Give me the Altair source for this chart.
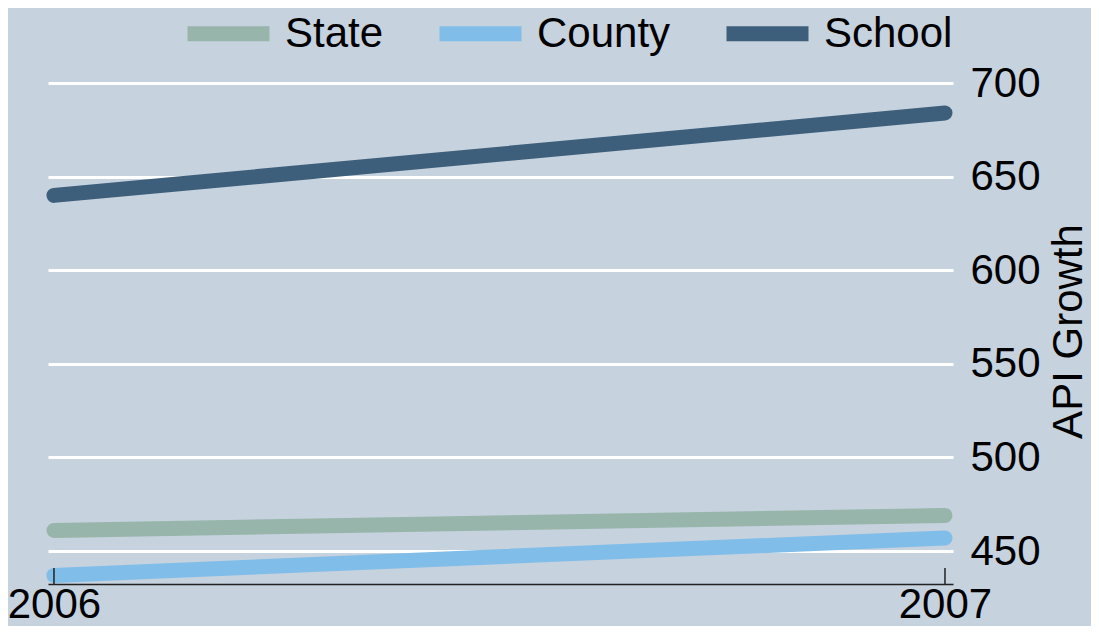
import altair as alt
import pandas as pd

years = [2006, 2007]
series_names = ["State", "County", "School"]
state_vals = [461, 469]
county_vals = [437, 457]
school_vals = [640, 684]
y_ticks = [450, 500, 550, 600, 650, 700]
colors = ["#97b5aa", "#80bde9", "#3e5f7b"]

rows = []
for name, vals in zip(series_names, [state_vals, county_vals, school_vals]):
    for yr, v in zip(years, vals):
        rows.append({"year": yr, "series": name, "value": v})
df = pd.DataFrame(rows)
ticks_df = pd.DataFrame({"year": years})

FONT = "Liberation Sans"
W, H = 905, 506

xscale = alt.Scale(domain=[2005.9933, 2007.009], nice=False, zero=False)

lines = alt.Chart(df).mark_line(strokeWidth=15, strokeCap="round").encode(
    x=alt.X("year:Q", scale=xscale,
            axis=alt.Axis(values=years, format="d", title=None, grid=False,
                          labelFlush=False, labelOverlap=False,
                          domain=True, domainColor="#222222", domainWidth=1.5,
                          ticks=False, tickSize=0, labelPadding=0,
                          labelFontSize=42, labelFont=FONT, labelColor="#000000")),
    y=alt.Y("value:Q",
            scale=alt.Scale(domain=[432.4, 702.7], nice=False, zero=False),
            axis=alt.Axis(orient="right", values=y_ticks, grid=True,
                          gridColor="#ffffff", gridWidth=3, domain=False,
                          ticks=False, tickSize=0, labelPadding=17,
                          labelFontSize=42, labelFont=FONT, labelColor="#000000",
                          title="API Growth", titleFontSize=42, titleFont=FONT,
                          titleFontWeight="normal", titleColor="#000000",
                          titleAngle=270, titleX=128, titleY=253,
                          titleAlign="center", titleBaseline="alphabetic")),
    color=alt.Color("series:N",
                    scale=alt.Scale(domain=series_names, range=colors),
                    legend=alt.Legend(orient="none", legendX=132, legendY=-93,
                                      direction="horizontal", title=None,
                                      symbolType="stroke", symbolStrokeWidth=15,
                                      symbolSize=6724, labelFontSize=42,
                                      labelFont=FONT, labelColor="#000000",
                                      labelOffset=8, columnPadding=25,
                                      padding=0, symbolOpacity=1)),
)

tick_marks = alt.Chart(ticks_df).mark_rule(color="#222222", strokeWidth=1.5).encode(
    x=alt.X("year:Q", scale=xscale),
    y=alt.value(H - 16),
    y2=alt.value(H),
)

chart = alt.layer(lines, tick_marks).properties(
    width=W, height=H,
    autosize=alt.AutoSizeParams(type="none"),
    padding={"left": 40, "top": 70, "right": 1083 - 40 - W, "bottom": 618 - 70 - H},
    background="#c6d2de",
).configure_view(strokeWidth=0)

chart.save("out.html", embed_options={"renderer": "svg", "actions": False})
